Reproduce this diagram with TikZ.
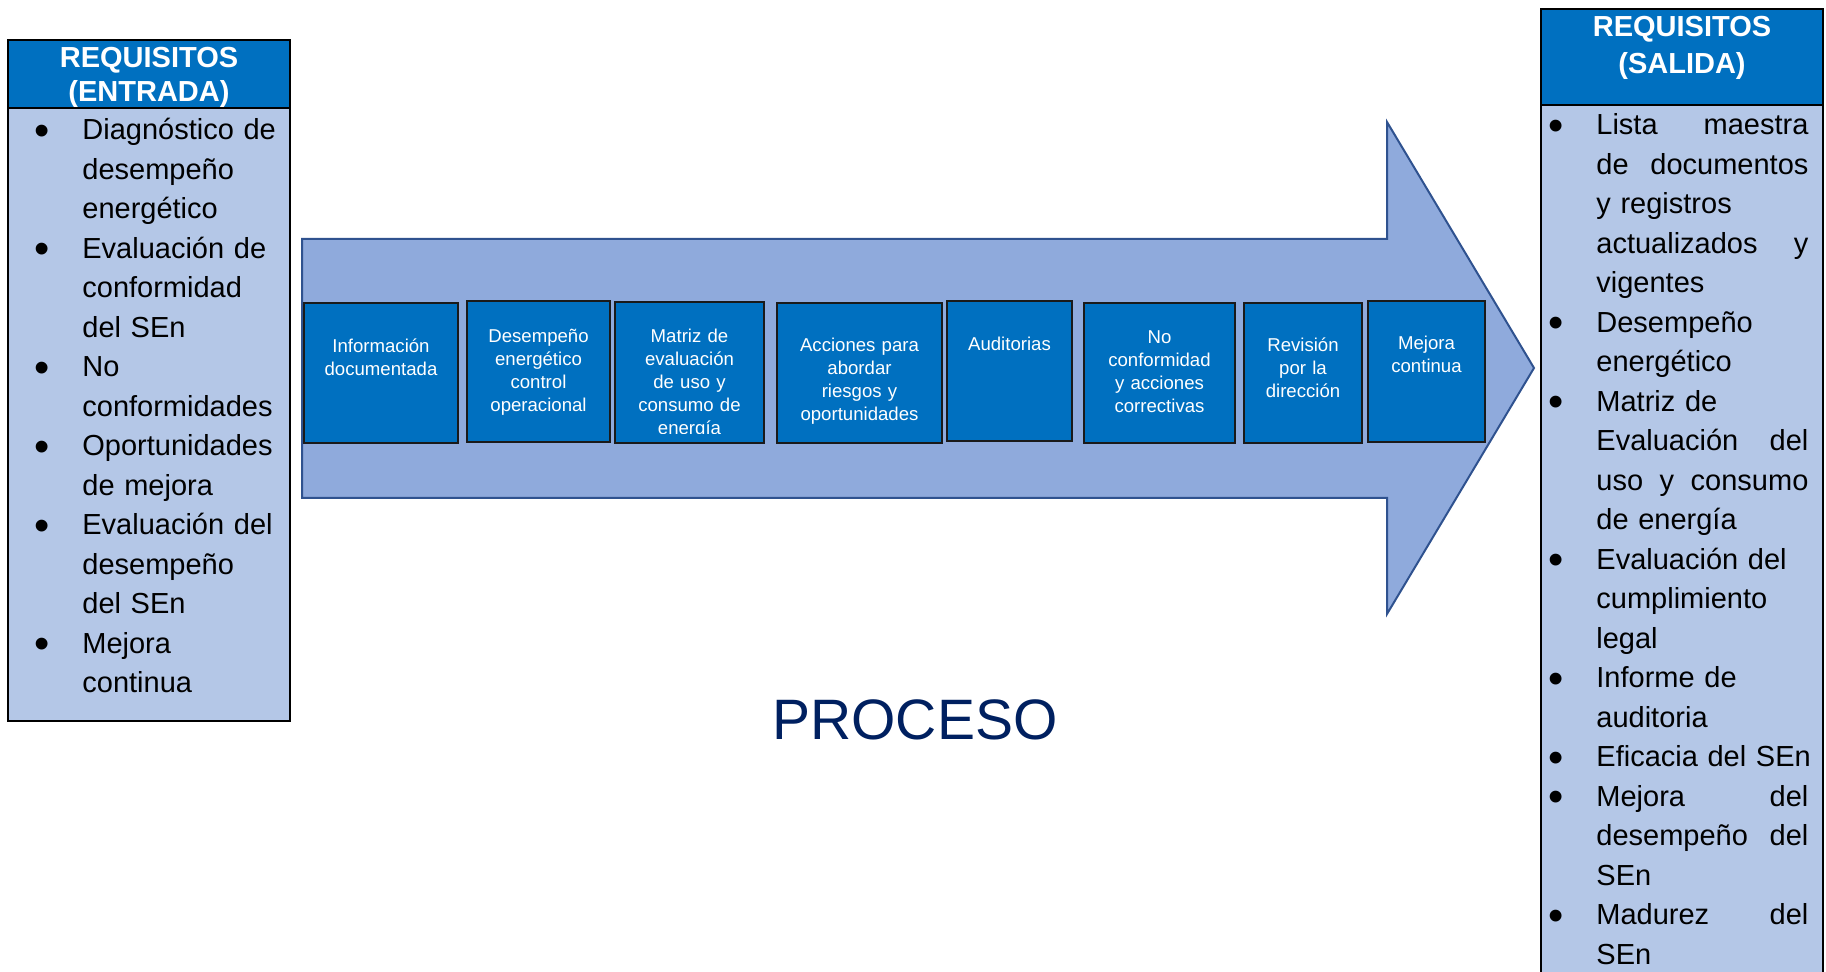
\documentclass[tikz,border=0pt]{standalone}
\usepackage{fontspec}
\setmainfont{Liberation Sans}
\usepackage{graphicx}
\definecolor{hdrblue}{HTML}{0070C0}
\definecolor{panelblue}{HTML}{B4C7E7}
\definecolor{arrowfill}{HTML}{8FAADC}
\definecolor{arrowline}{HTML}{2F528F}
\definecolor{boxline}{HTML}{1A1A1A}
\definecolor{procblue}{HTML}{002060}
\newcommand{\bul}{\leavevmode\llap{\makebox[0pt][c]{\raisebox{-2.6pt}{\scalebox{1.5}{•}}}\hspace{20.3pt}}}
\newcommand{\jus}[1]{\leavevmode\hbox to 106pt{#1}}
\begin{document}
\begin{tikzpicture}[x=0.5pt,y=-0.5pt,
  panel/.style={draw=black, line width=1.2pt, fill=panelblue, inner sep=0pt},
  hdr/.style={draw=black, line width=1.2pt, fill=hdrblue, inner sep=0pt},
  pbox/.style={draw=boxline, line width=0.8pt, fill=hdrblue, inner sep=0pt},
  ptext/.style={text=white, font=\fontsize{9.3}{11.5}\selectfont, align=center, inner sep=0pt, anchor=base, text width=70pt},
  htext/.style={text=white, font=\bfseries\fontsize{14.5}{17}\selectfont, align=center, inner sep=0pt, anchor=base, text width=130pt},
  ltext/.style={font=\fontsize{14.5}{19.75}\selectfont, align=left, inner sep=0pt, anchor=base west, text width=112pt},
  bigarrow/.style={draw=arrowline, line width=1pt, fill=arrowfill, line join=miter}
]
\path[use as bounding box, clip] (0,0) rectangle (1826,972);

% big process arrow
\draw[bigarrow] (302,239) -- (1387,239) -- (1387,122) -- (1534,368) -- (1387,614) -- (1387,498) -- (302,498) -- cycle;

% process boxes
\node[pbox, minimum width=77pt,   minimum height=70pt]   (b1) at (381,373)    {};
\node[pbox, minimum width=71.5pt, minimum height=70.5pt] (b2) at (538.5,371.5) {};
\node[pbox, minimum width=74.5pt, minimum height=70.5pt] (b3) at (689.5,372.5) {};
\node[pbox, minimum width=82.5pt, minimum height=70pt]   (b4) at (859.5,373)  {};
\node[pbox, minimum width=62.5pt, minimum height=70pt]   (b5) at (1009.5,371) {};
\node[pbox, minimum width=75.5pt, minimum height=70pt]   (b6) at (1159.5,373) {};
\node[pbox, minimum width=59pt,   minimum height=70pt]   (b7) at (1303,373)   {};
\node[pbox, minimum width=58.5pt, minimum height=70.5pt] (b8) at (1426.5,371.5) {};

\node[ptext] (t1) at (381,353) {Información\\documentada};
\node[ptext] (t2) at (538.5,343) {Desempeño\\energético\\control\\operacional};
\begin{scope}
\clip (615,302) rectangle (764,434);
\node[ptext] (t3) at (689.5,343) {Matriz de\\evaluación\\de uso y\\consumo de\\energía};
\end{scope}
\node[ptext] (t4) at (859.5,352) {Acciones para\\abordar\\riesgos y\\oportunidades};
\node[ptext] (t5) at (1009.5,351) {Auditorias};
\node[ptext] (t6) at (1159.5,344) {No\\conformidad\\y acciones\\correctivas};
\node[ptext] (t7) at (1303,352) {Revisión\\por la\\dirección};
\node[ptext] (t8) at (1426.5,350) {Mejora\\continua};

% left panel (input)
\node[panel, minimum width=141pt, minimum height=340.5pt] (inbody) at (149,380.5) {};
\node[hdr, minimum width=141pt, minimum height=34pt] (inhdr) at (149,74) {};
\node[htext, font=\bfseries\fontsize{14.5}{17}\selectfont] (inhdrtxt) at (149,68) {REQUISITOS\\(ENTRADA)};
\node[ltext] (inlist) at (82,140) {\bul Diagnóstico de\\desempeño\\energético\\
\bul Evaluación de\\conformidad\\del SEn\\
\bul No\\conformidades\\
\bul Oportunidades\\de mejora\\
\bul Evaluación del\\desempeño\\del SEn\\
\bul Mejora\\continua};

% right panel (output)
\node[panel, minimum width=141pt, minimum height=488pt] (outbody) at (1682,497) {};
\node[hdr, minimum width=141pt, minimum height=48pt] (outhdr) at (1682,57) {};
\node[htext, font=\bfseries\fontsize{14.5}{18.5}\selectfont] (outhdrtxt) at (1682,37) {REQUISITOS\\(SALIDA)};
\node[ltext] (outlist) at (1596,135) {\bul\jus{Lista\hfill maestra}\\\jus{de\hfill documentos}\\y registros\\\jus{actualizados\hfill y}\\vigentes\\
\bul Desempeño\\energético\\
\bul Matriz de\\\jus{Evaluación\hfill del}\\\jus{uso\hfill y\hfill consumo}\\de energía\\
\bul Evaluación del\\cumplimiento\\legal\\
\bul Informe de\\auditoria\\
\bul Eficacia del SEn\\
\bul\jus{Mejora\hfill del}\\\jus{desempeño\hfill del}\\SEn\\
\bul\jus{Madurez\hfill del}\\SEn};

% caption
\node[text=procblue, font=\fontsize{28.5}{34}\selectfont, inner sep=0pt, anchor=base] (proceso) at (915,740) {PROCESO};
\end{tikzpicture}
\end{document}
